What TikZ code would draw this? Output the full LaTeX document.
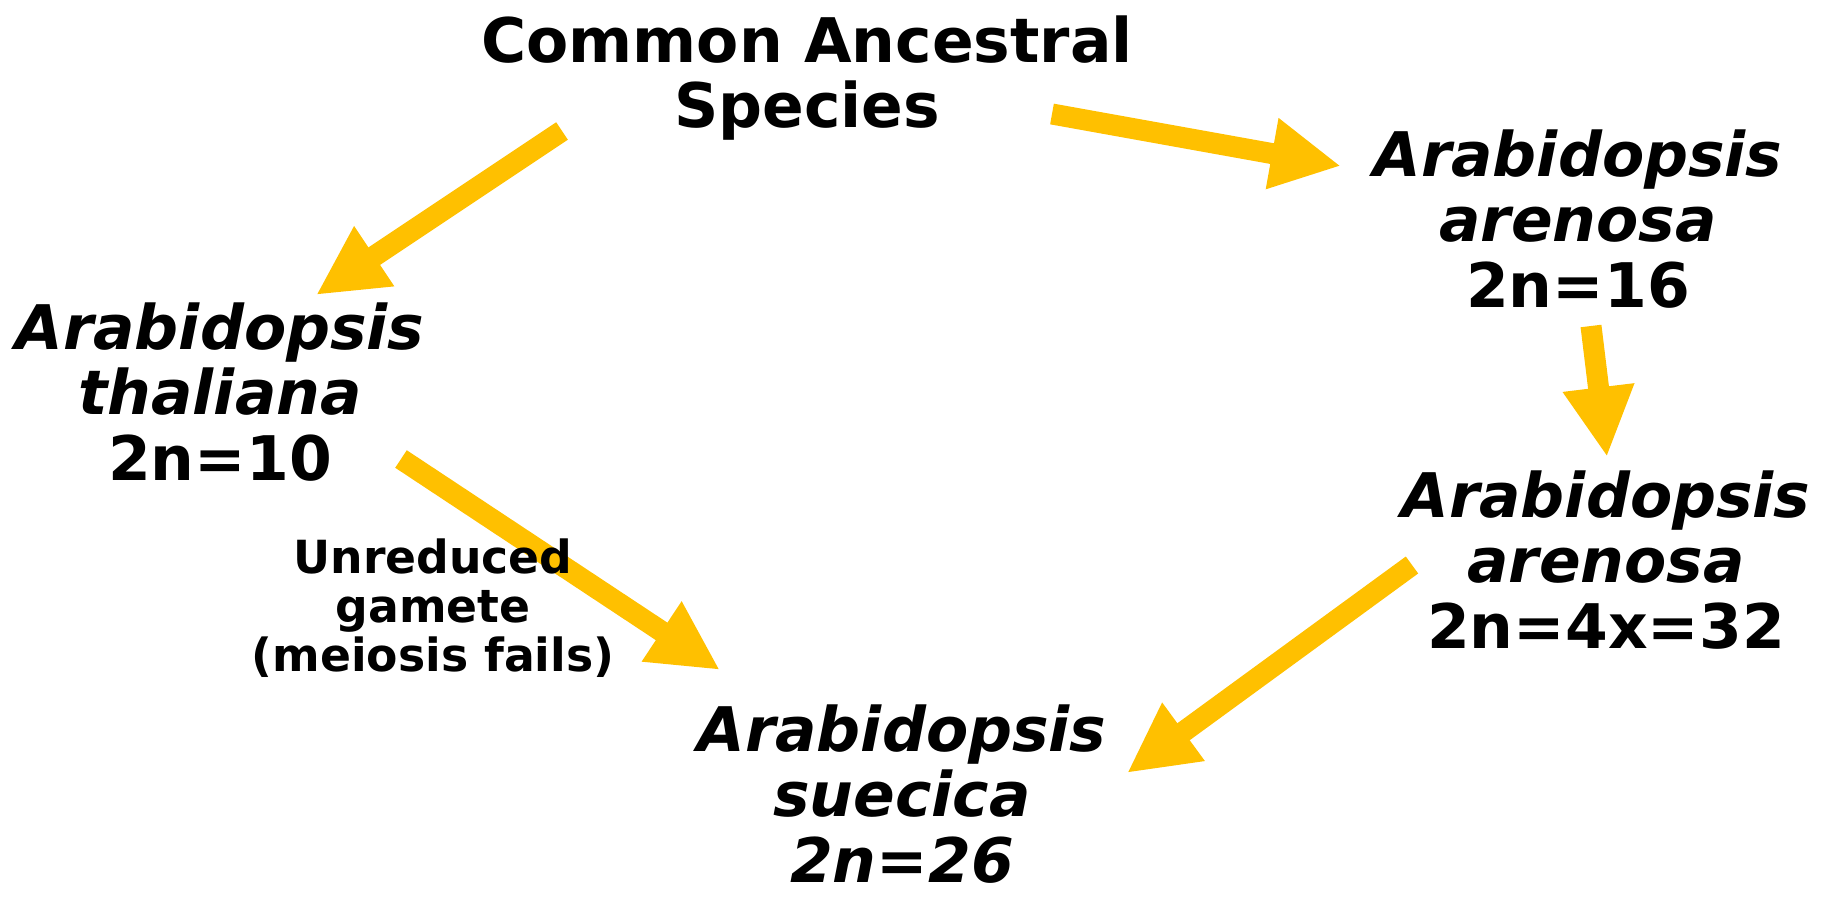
\documentclass[tikz,border=0pt]{standalone}
\usepackage{fontspec}
\setmainfont{DejaVu Sans}
\usetikzlibrary{arrows.meta}
\definecolor{arrowgold}{HTML}{FFC000}

\begin{document}
\begin{tikzpicture}[
    x=0.02cm, y=-0.02cm,
    species/.style={align=center, inner sep=2pt,
      font=\fontsize{35}{37.5}\selectfont\bfseries},
    note/.style={align=center, inner sep=2pt,
      font=\fontsize{26}{28}\selectfont\bfseries},
    arrow/.style={-{Triangle[length=1.4cm, width=1.34cm]},
      line width=0.42cm, arrowgold}
  ]
  \useasboundingbox (0,0) rectangle (1837,899);
  %---- SPECIES ----
  \node[species] (anc)   at (807,78)   {Common Ancestral\\Species};
  \node[species] (thal)  at (220,392)  {\textit{Arabidopsis}\\\textit{thaliana}\\2n=10};
  \node[species] (aren)  at (1578,219) {\textit{Arabidopsis}\\\textit{arenosa}\\2n=16};
  \node[species] (tetra) at (1606,560) {\textit{Arabidopsis}\\\textit{arenosa}\\2n=4x=32};
  \node[species] (suec)  at (902,794)  {\textit{Arabidopsis}\\\textit{suecica}\\\textit{2n=26}};
  %---- ARROWS ----
  \draw[arrow] ([shift={(-245,53)}]anc.center)  -- ([shift={(96,-97)}]thal.center);
  \draw[arrow] ([shift={(245,36)}]anc.center)   -- ([shift={(-237,-53)}]aren.center);
  \draw[arrow] ([shift={(13,107)}]aren.center)  -- ([shift={(1,-103)}]tetra.center);
  \draw[arrow] ([shift={(181,67)}]thal.center)  -- ([shift={(-182,-124)}]suec.center);
  \draw[arrow] ([shift={(-194,5)}]tetra.center) -- ([shift={(225,-21)}]suec.center);
  \node[note] (gamete) at (433,608) {Unreduced\\gamete\\(meiosis fails)};
\end{tikzpicture}
\end{document}
